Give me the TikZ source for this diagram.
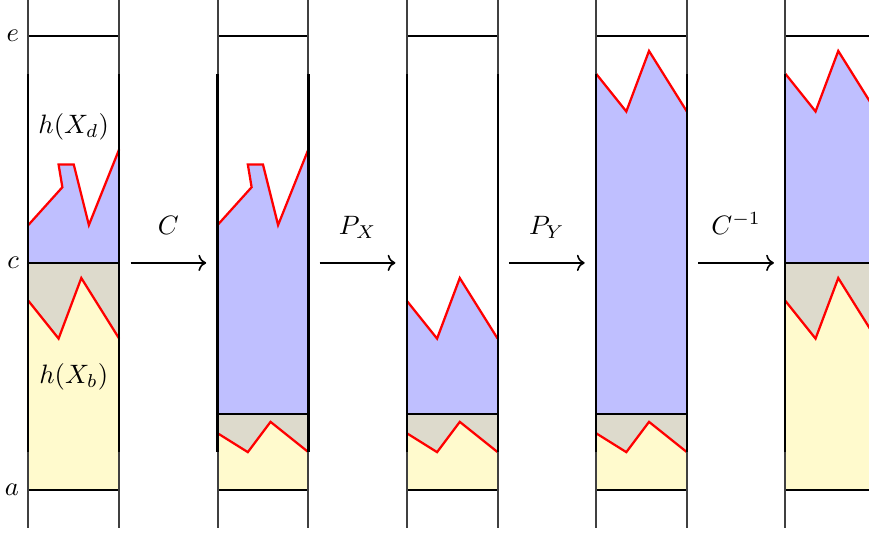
\documentclass[tikz,border=0pt]{standalone}
\usetikzlibrary{arrows.meta}
\definecolor{bluefill}{RGB}{191,191,255}
\definecolor{yelfill}{RGB}{255,250,205}
\definecolor{grayfill}{RGB}{221,218,204}
\begin{document}
\begin{tikzpicture}[
  redline/.style={red, line width=0.85pt, line join=miter},
  level/.style={black, line width=0.8pt},
  wall/.style={black, line width=0.85pt},
  wallext/.style={black!75, line width=0.75pt},
  maparrow/.style={->, line width=0.6pt},
  maplabel/.style={anchor=base},
]
\useasboundingbox (-0.374,-0.568) rectangle (11.106,6.473);
\clip (-0.374,-0.568) rectangle (11.106,6.473);

% ---------- column 1 ----------
\begin{scope}
  \fill[yelfill] (0,0) -- (0,2.5) -- (0.4,2) -- (0.7,2.8) -- (1.2,2) -- (1.2,0) -- cycle;
  \fill[grayfill] (0,3) -- (0,2.5) -- (0.4,2) -- (0.7,2.8) -- (1.2,2) -- (1.2,3) -- cycle;
  \fill[bluefill] (0,3) -- (0,3.5) -- (0.45,4) -- (0.4,4.3) -- (0.6,4.3) -- (0.8,3.5) -- (1.2,4.5) -- (1.2,3) -- cycle;
  \draw[redline] (0,2.5) -- (0.4,2) -- (0.7,2.8) -- (1.2,2);
  \draw[redline] (0,3.5) -- (0.45,4) -- (0.4,4.3) -- (0.6,4.3) -- (0.8,3.5) -- (1.2,4.5);
  \draw[level] (0,0) -- (1.2,0);
  \draw[level] (0,3) -- (1.2,3);
  \draw[level] (0,6) -- (1.2,6);
  \node (lblXd) at (0.6,4.8) {$h(X_d)$};
  \node (lblXb) at (0.6,1.5) {$h(X_b)$};
\end{scope}

% ---------- column 2 ----------
\begin{scope}[xshift=2.5cm]
  \fill[yelfill] (0,0) -- (0,0.75) -- (0.4,0.5) -- (0.7,0.9) -- (1.2,0.5) -- (1.2,0) -- cycle;
  \fill[grayfill] (0,1) -- (0,0.75) -- (0.4,0.5) -- (0.7,0.9) -- (1.2,0.5) -- (1.2,1) -- cycle;
  \fill[bluefill] (0,1) -- (0,3.5) -- (0.45,4) -- (0.4,4.3) -- (0.6,4.3) -- (0.8,3.5) -- (1.2,4.5) -- (1.2,1) -- cycle;
  \draw[redline] (0,0.75) -- (0.4,0.5) -- (0.7,0.9) -- (1.2,0.5);
  \draw[redline] (0,3.5) -- (0.45,4) -- (0.4,4.3) -- (0.6,4.3) -- (0.8,3.5) -- (1.2,4.5);
  \draw[level] (0,0) -- (1.2,0);
  \draw[level] (0,1) -- (1.2,1);
  \draw[level] (0,6) -- (1.2,6);
\end{scope}

% ---------- column 3 ----------
\begin{scope}[xshift=5cm]
  \fill[yelfill] (0,0) -- (0,0.75) -- (0.4,0.5) -- (0.7,0.9) -- (1.2,0.5) -- (1.2,0) -- cycle;
  \fill[grayfill] (0,1) -- (0,0.75) -- (0.4,0.5) -- (0.7,0.9) -- (1.2,0.5) -- (1.2,1) -- cycle;
  \fill[bluefill] (0,1) -- (0,2.5) -- (0.4,2) -- (0.7,2.8) -- (1.2,2) -- (1.2,1) -- cycle;
  \draw[redline] (0,0.75) -- (0.4,0.5) -- (0.7,0.9) -- (1.2,0.5);
  \draw[redline] (0,2.5) -- (0.4,2) -- (0.7,2.8) -- (1.2,2);
  \draw[level] (0,0) -- (1.2,0);
  \draw[level] (0,1) -- (1.2,1);
  \draw[level] (0,6) -- (1.2,6);
\end{scope}

% ---------- column 4 ----------
\begin{scope}[xshift=7.5cm]
  \fill[yelfill] (0,0) -- (0,0.75) -- (0.4,0.5) -- (0.7,0.9) -- (1.2,0.5) -- (1.2,0) -- cycle;
  \fill[grayfill] (0,1) -- (0,0.75) -- (0.4,0.5) -- (0.7,0.9) -- (1.2,0.5) -- (1.2,1) -- cycle;
  \fill[bluefill] (0,1) -- (0,5.5) -- (0.4,5) -- (0.7,5.8) -- (1.2,5) -- (1.2,1) -- cycle;
  \draw[redline] (0,0.75) -- (0.4,0.5) -- (0.7,0.9) -- (1.2,0.5);
  \draw[redline] (0,5.5) -- (0.4,5) -- (0.7,5.8) -- (1.2,5);
  \draw[level] (0,0) -- (1.2,0);
  \draw[level] (0,1) -- (1.2,1);
  \draw[level] (0,6) -- (1.2,6);
\end{scope}

% ---------- column 5 ----------
\begin{scope}[xshift=10cm]
  \fill[yelfill] (0,0) -- (0,2.5) -- (0.4,2) -- (0.7,2.8) -- (1.2,2) -- (1.2,0) -- cycle;
  \fill[grayfill] (0,3) -- (0,2.5) -- (0.4,2) -- (0.7,2.8) -- (1.2,2) -- (1.2,3) -- cycle;
  \fill[bluefill] (0,3) -- (0,5.5) -- (0.4,5) -- (0.7,5.8) -- (1.2,5) -- (1.2,3) -- cycle;
  \draw[redline] (0,2.5) -- (0.4,2) -- (0.7,2.8) -- (1.2,2);
  \draw[redline] (0,5.5) -- (0.4,5) -- (0.7,5.8) -- (1.2,5);
  \draw[level] (0,0) -- (1.2,0);
  \draw[level] (0,3) -- (1.2,3);
  \draw[level] (0,6) -- (1.2,6);
\end{scope}

% ---------- walls ----------
\foreach \xl in {0,2.5,5,7.5,10}{
  \draw[wallext] (\xl,-0.5) -- (\xl,6.6);
  \draw[wallext] (\xl+1.2,-0.5) -- (\xl+1.2,6.6);
  \draw[wall] (\xl,0.5) -- (\xl,5.5);
  \draw[wall] (\xl+1.2,0.5) -- (\xl+1.2,5.5);
}

% ---------- axis labels ----------
\node[left] (lble) at (0,6) {$e$};
\node[left] (lblc) at (0,3) {$c$};
\node[left] (lbla) at (0,0) {$a$};

% ---------- maps ----------
\coordinate (s1) at (1.35,3); \coordinate (t1) at (2.35,3);
\coordinate (s2) at (3.85,3); \coordinate (t2) at (4.85,3);
\coordinate (s3) at (6.35,3); \coordinate (t3) at (7.35,3);
\coordinate (s4) at (8.85,3); \coordinate (t4) at (9.85,3);
\draw[maparrow] (s1) -- (t1);
\draw[maparrow] (s2) -- (t2);
\draw[maparrow] (s3) -- (t3);
\draw[maparrow] (s4) -- (t4);
\node[maplabel] (mC) at (1.85,3.38) {$C$};
\node[maplabel] (mPX) at (4.35,3.38) {$P_X$};
\node[maplabel] (mPY) at (6.85,3.38) {$P_Y$};
\node[maplabel] (mCi) at (9.35,3.38) {$C^{-1}$};
\end{tikzpicture}
\end{document}
